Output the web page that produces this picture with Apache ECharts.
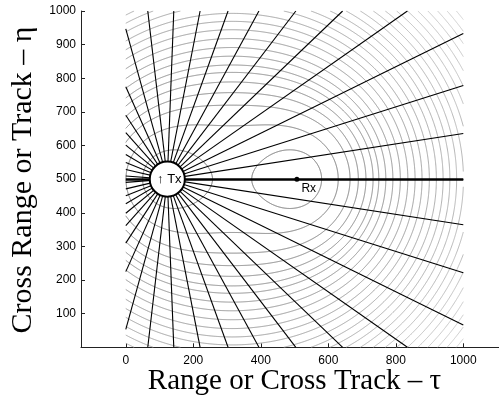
<!DOCTYPE html>
<html><head><meta charset="utf-8">
<script src="https://cdn.jsdelivr.net/npm/echarts@6/dist/echarts.min.js"></script>
<style>html,body{margin:0;padding:0;background:#fff}#c{width:499px;height:401px}</style>
</head><body><div id="c"></div>
<script>
// Transmitter and receiver positions (range, cross range)
const txPos = [123, 500];
const rxPos = [507, 500];
const txRadius = 52;

// Bearings of the rays drawn out from the transmitter, degrees
const rayAngles = [0, 8.8, 17.6, 26.3, 35.1, 43.9, 52.7, 61.5, 70.2, 79.0, 87.8,
  96.6, 105.4, 114.1, 122.9, 131.7, 140.5, 149.3, 158.0, 166.8, 175.6,
  184.4, 193.2, 202.0, 210.7, 219.5, 228.3, 237.1, 245.9, 254.6, 263.4,
  272.2, 281.0, 289.8, 298.5, 307.3, 316.1, 324.9, 333.7, 342.4, 351.2];

// Contour levels: geometric-mean range sqrt(R_T * R_R)
const contourLevels = [183, 249, 292, 321, 347, 371, 390, 413, 436, 460, 484,
  507, 529, 552, 574, 595, 616, 637, 658, 679, 700, 721, 742, 763, 784, 805, 826, 847];

// Tick labels
const xTicks = [0, 200, 400, 600, 800, 1000];
const yTicks = [100, 200, 300, 400, 500, 600, 700, 800, 900, 1000];

// Drawn scene region [xmin, xmax, ymin, ymax]
const scene = [0, 1000, 0, 1000];

function clipSeg(p, q, box) {
  let t0 = 0, t1 = 1;
  const dx = q[0] - p[0], dy = q[1] - p[1];
  const P = [-dx, dx, -dy, dy];
  const Q = [p[0] - box[0], box[1] - p[0], p[1] - box[2], box[3] - p[1]];
  for (let i = 0; i < 4; i++) {
    if (P[i] === 0) { if (Q[i] < 0) return null; }
    else {
      const r = Q[i] / P[i];
      if (P[i] < 0) { if (r > t1) return null; if (r > t0) t0 = r; }
      else { if (r < t0) return null; if (r < t1) t1 = r; }
    }
  }
  return [t0, t1];
}

function clipPolyline(pts, box) {
  const pieces = []; let cur = null;
  for (let i = 0; i < pts.length - 1; i++) {
    const p = pts[i], q = pts[i + 1];
    const r = clipSeg(p, q, box);
    if (!r) { if (cur) { pieces.push(cur); cur = null; } continue; }
    const a = [p[0] + (q[0] - p[0]) * r[0], p[1] + (q[1] - p[1]) * r[0]];
    const b = [p[0] + (q[0] - p[0]) * r[1], p[1] + (q[1] - p[1]) * r[1]];
    if (!cur || r[0] > 0) { if (cur) pieces.push(cur); cur = [a]; }
    cur.push(b);
    if (r[1] < 1) { pieces.push(cur); cur = null; }
  }
  if (cur) pieces.push(cur);
  return pieces.filter(p => p.length > 1);
}

// Cassini oval R_T * R_R = level^2 with foci at Tx and Rx
function cassini(level) {
  const c = (rxPos[0] - txPos[0]) / 2, mx = (rxPos[0] + txPos[0]) / 2, my = txPos[1];
  const b4 = Math.pow(level, 4), c4 = Math.pow(c, 4), c2 = c * c;
  const loops = [];
  const N = 1440;
  if (level > c) {
    const pts = [];
    for (let i = 0; i <= N; i++) {
      const th = 2 * Math.PI * i / N;
      const s2 = Math.sin(2 * th);
      const r2 = c2 * Math.cos(2 * th) + Math.sqrt(b4 - c4 * s2 * s2);
      const r = Math.sqrt(Math.max(r2, 0));
      pts.push([mx + r * Math.cos(th), my + r * Math.sin(th)]);
    }
    loops.push(pts);
  } else {
    const thMax = 0.5 * Math.asin(level * level / c2);
    for (const base of [0, Math.PI]) {
      const outer = [], inner = [];
      for (let i = 0; i <= N; i++) {
        const u = -Math.PI / 2 + Math.PI * i / N;
        const th = thMax * Math.sin(u);
        const s2 = Math.sin(2 * th);
        const root = Math.sqrt(Math.max(b4 - c4 * s2 * s2, 0));
        const cs = c2 * Math.cos(2 * th);
        const ro = Math.sqrt(cs + root), ri = Math.sqrt(Math.max(cs - root, 0));
        const ang = base + th;
        outer.push([mx + ro * Math.cos(ang), my + ro * Math.sin(ang)]);
        inner.push([mx + ri * Math.cos(ang), my + ri * Math.sin(ang)]);
      }
      loops.push(outer.concat(inner.reverse()).concat([outer[0]]));
    }
  }
  return loops;
}

// lighter grey for the larger contours
function grayFor(level) {
  const lo = contourLevels[0], hi = contourLevels[contourLevels.length - 1];
  const t = (level - lo) / (hi - lo);
  const g = Math.round(108 + t * 105);
  return 'rgb(' + g + ',' + g + ',' + g + ')';
}

const contourData = [];
contourLevels.forEach(level => {
  cassini(level).forEach(loop => {
    clipPolyline(loop, scene).forEach(piece => {
      contourData.push({ coords: piece, lineStyle: { color: grayFor(level) } });
    });
  });
});

const rayData = rayAngles.map(deg => {
  const a = deg * Math.PI / 180, ca = Math.cos(a), sa = Math.sin(a);
  const tx = ca > 1e-9 ? (scene[1] - txPos[0]) / ca : ca < -1e-9 ? (scene[0] - txPos[0]) / ca : Infinity;
  const ty = sa > 1e-9 ? (scene[3] - txPos[1]) / sa : sa < -1e-9 ? (scene[2] - txPos[1]) / sa : Infinity;
  const t = Math.min(tx, ty);
  return { coords: [txPos.slice(), [txPos[0] + t * ca, txPos[1] + t * sa]] };
});

const baseline = [{ coords: [[scene[0], txPos[1]], [scene[1], txPos[1]]] }];

const tickFont = { fontFamily: 'Liberation Sans, Arial, sans-serif', fontSize: 12, color: '#000' };
const plain = v => String(v);

const chart = echarts.init(document.getElementById('c'), null, { renderer: 'canvas' });
chart.setOption({
  animation: false,
  backgroundColor: '#fff',
  grid: { left: 81, top: 11, width: 418, height: 336.3, outerBoundsMode: 'none' },
  xAxis: {
    type: 'value', min: -132.7, max: 1105.8,
    axisLine: { show: true, onZero: false, lineStyle: { color: '#222', width: 1 } },
    axisTick: { show: true, inside: true, length: 4, customValues: xTicks, lineStyle: { color: '#222' } },
    axisLabel: Object.assign({ customValues: xTicks, margin: 7, formatter: plain }, tickFont),
    splitLine: { show: false }
  },
  yAxis: {
    type: 'value', min: 0, max: 1000,
    axisLine: { show: true, onZero: false, lineStyle: { color: '#222', width: 1 } },
    axisTick: { show: true, inside: true, length: 4, customValues: yTicks, lineStyle: { color: '#222' } },
    axisLabel: Object.assign({ customValues: yTicks, margin: 5, formatter: plain }, tickFont),
    splitLine: { show: false }
  },
  graphic: [
    { type: 'text', x: 294.5, y: 381, style: { text: 'Range or Cross Track – τ', font: '29px "Liberation Serif", "Times New Roman", serif', fill: '#000', align: 'center', verticalAlign: 'middle' } },
    { type: 'text', x: 23, y: 180, rotation: Math.PI / 2, style: { text: 'Cross Range or Track – η', font: '30px "Liberation Serif", "Times New Roman", serif', fill: '#000', align: 'center', verticalAlign: 'middle' } }
  ],
  series: [
    { type: 'lines', coordinateSystem: 'cartesian2d', polyline: true, silent: true, z: 1,
      lineStyle: { width: 1, opacity: 1 }, data: contourData },
    { type: 'lines', coordinateSystem: 'cartesian2d', silent: true, z: 2,
      lineStyle: { width: 1.1, color: '#000', opacity: 1 }, data: rayData },
    { type: 'lines', coordinateSystem: 'cartesian2d', silent: true, z: 3,
      lineStyle: { width: 2.5, color: '#000', opacity: 1 }, data: baseline },
    { type: 'custom', z: 4, silent: true, data: [txPos],
      renderItem: function (params, api) {
        const p = api.coord([api.value(0), api.value(1)]);
        const r = api.size([txRadius, 0])[0];
        return { type: 'group', children: [
          { type: 'circle', shape: { cx: p[0], cy: p[1], r: r }, style: { fill: '#fff', stroke: '#000', lineWidth: 2 } },
          { type: 'text', x: p[0] + 2, y: p[1], style: { text: '↑ Tx', font: '13px "Liberation Sans", Arial, sans-serif', fill: '#000', align: 'center', verticalAlign: 'middle' } }
        ] };
      } },
    { type: 'scatter', z: 10, silent: true, data: [rxPos], symbol: 'circle', symbolSize: 5,
      itemStyle: { color: '#000', opacity: 1 },
      label: { show: true, formatter: 'Rx', position: [7, 6], fontFamily: 'Liberation Sans, Arial, sans-serif', fontSize: 12, color: '#000' } }
  ]
});
</script>
</body></html>
